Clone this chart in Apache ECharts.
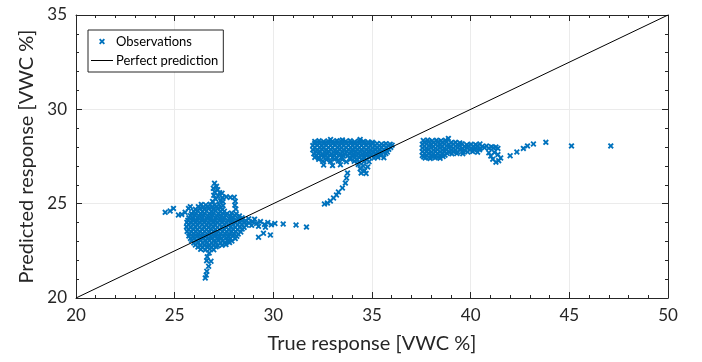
<!DOCTYPE html>
<html>
<head>
<meta charset="utf-8">
<script src="https://cdn.jsdelivr.net/npm/echarts@6/dist/echarts.min.js"></script>
<style>
  html, body { margin: 0; padding: 0; background: #fff; }
  #chart { width: 702px; height: 362px; }
</style>
</head>
<body>
<div id="chart"></div>
<script>
// Axis ranges and ticks
const xTicks = [20, 25, 30, 35, 40, 45, 50];
const yTicks = [20, 25, 30, 35];

// Reference diagonal drawn corner to corner
const perfectLine = [[20, 20], [50, 35]];

// Observations [true VWC %, predicted VWC %] — low-moisture cluster body
const obsLowBody = [
  [26.35,24.96],[26.58,24.93],[26.8,24.97],[27.02,24.92],[27.25,24.95],[27.45,24.9],
  [26.05,24.7],[26.27,24.74],[26.5,24.71],[26.72,24.75],[26.95,24.7],[27.18,24.73],[27.42,24.69],
  [25.85,24.47],[26.07,24.5],[26.3,24.46],[26.52,24.49],[26.75,24.47],[26.97,24.51],[27.2,24.46],[27.42,24.49],[27.65,24.47],[27.88,24.5],[28.12,24.46],
  [25.72,24.25],[25.94,24.22],[26.17,24.26],[26.4,24.23],[26.62,24.25],[26.85,24.21],[27.07,24.26],[27.3,24.23],[27.52,24.24],[27.75,24.22],[27.97,24.26],[28.2,24.23],[28.42,24.25],
  [25.62,24.01],[25.84,23.98],[26.07,24.02],[26.3,23.99],[26.52,24.01],[26.74,23.97],[26.97,24.02],[27.2,23.99],[27.42,24.01],[27.64,23.98],[27.87,24.02],[28.1,23.99],[28.32,24.0],[28.55,24.02],[28.77,23.98],
  [25.6,23.77],[25.82,23.74],[26.05,23.78],[26.27,23.75],[26.5,23.77],[26.72,23.73],[26.95,23.78],[27.17,23.75],[27.4,23.77],[27.62,23.74],[27.85,23.78],[28.07,23.75],[28.3,23.76],[28.52,23.74],
  [25.63,23.53],[25.85,23.5],[26.08,23.54],[26.3,23.51],[26.53,23.53],[26.75,23.49],[26.98,23.54],[27.2,23.51],[27.43,23.53],[27.65,23.5],[27.88,23.54],[28.1,23.51],[28.35,23.5],
  [25.72,23.29],[25.95,23.26],[26.17,23.3],[26.4,23.27],[26.62,23.29],[26.85,23.25],[27.07,23.3],[27.3,23.27],[27.52,23.29],[27.75,23.26],[27.97,23.3],[28.15,23.27],
  [25.86,23.05],[26.08,23.02],[26.31,23.06],[26.53,23.03],[26.76,23.05],[26.98,23.01],[27.21,23.06],[27.43,23.03],[27.66,23.04],[27.9,23.02],
  [26.05,22.81],[26.28,22.78],[26.5,22.82],[26.73,22.79],[26.95,22.81],[27.18,22.77],[27.4,22.8],[27.6,22.83],
  [26.32,22.58],[26.55,22.55],[26.78,22.6],[26.98,22.56]
];
// Low cluster: denser core between the rows above
const obsLowCore = [
  [26.2,24.84],[26.45,24.81],[26.68,24.85],[26.9,24.82],[27.12,24.84],[27.35,24.8],
  [25.96,24.6],[26.18,24.62],[26.4,24.58],[26.62,24.61],[26.85,24.59],[27.08,24.63],[27.3,24.58],[27.52,24.6],
  [25.8,24.36],[26.02,24.38],[26.25,24.34],[26.47,24.37],[26.7,24.35],[26.92,24.39],[27.15,24.34],[27.37,24.36],[27.6,24.38],[27.82,24.34],[28.05,24.37],[28.28,24.35],
  [25.67,24.12],[25.9,24.14],[26.12,24.1],[26.35,24.13],[26.57,24.11],[26.8,24.15],[27.02,24.1],[27.25,24.12],[27.47,24.14],[27.7,24.1],[27.92,24.13],[28.15,24.11],[28.37,24.14],[28.6,24.1],
  [25.7,23.88],[25.93,23.9],[26.15,23.86],[26.38,23.89],[26.6,23.87],[26.83,23.91],[27.05,23.86],[27.28,23.88],[27.5,23.9],[27.73,23.86],[27.95,23.89],[28.18,23.87],[28.4,23.9],[28.63,23.86],
  [25.7,23.64],[25.93,23.66],[26.15,23.62],[26.38,23.65],[26.6,23.63],[26.83,23.67],[27.05,23.62],[27.28,23.64],[27.5,23.66],[27.73,23.62],[27.95,23.65],[28.18,23.63],[28.42,23.66],
  [25.74,23.4],[25.97,23.42],[26.2,23.38],[26.42,23.41],[26.65,23.39],[26.87,23.43],[27.1,23.38],[27.32,23.4],[27.55,23.42],[27.77,23.38],[28.0,23.41],[28.22,23.39],
  [25.8,23.16],[26.02,23.18],[26.25,23.14],[26.47,23.17],[26.7,23.15],[26.92,23.19],[27.15,23.14],[27.37,23.16],[27.6,23.18],[27.82,23.14],
  [25.97,22.92],[26.2,22.94],[26.42,22.9],[26.65,22.93],[26.87,22.91],[27.1,22.95],[27.32,22.9],[27.55,22.92],[27.78,22.94],
  [26.18,22.7],[26.42,22.68],[26.65,22.72],[26.88,22.69],[27.1,22.71]
];

// Low cluster: upward spike, hook, downward tail, left fringe, right wing
const obsLowSpike = [
  [27.02,26.08],[27.12,25.92],[26.96,25.82],[27.18,25.74],[27.03,25.62],[27.28,25.58],[27.4,25.55],
  [26.98,25.44],[27.2,25.4],[27.42,25.32],[27.08,25.24],[27.32,25.16],[26.92,25.12],[27.45,25.1]
];
const obsLowHook = [
  [27.62,25.36],[27.82,25.33],[28.02,25.34],[28.07,25.13],[28.05,24.92],[28.1,24.72]
];
const obsLowTail = [
  [26.75,22.38],[26.65,22.18],[26.84,21.95],[26.62,21.98],[26.72,21.68],[26.63,21.42],[26.6,21.22],[26.55,21.06]
];
const obsLowFringe = [
  [24.52,24.54],[24.77,24.61],[24.94,24.75],[25.19,24.4],[25.36,24.43],[25.53,24.54],[25.7,24.75],[25.79,24.84]
];
const obsLowWing = [
  [28.75,24.2],[29.05,24.18],[28.95,24.05],[29.15,23.95],[29.35,24.05],[29.55,23.9],[29.72,24.0],[29.9,23.88],
  [30.08,23.95],[28.9,23.85],[29.25,23.8],[29.6,23.75],[30.5,23.92],[31.15,23.87],[31.68,23.76],
  [29.25,23.22],[29.5,23.43],[29.85,23.34],[28.07,23.15],[27.72,22.98]
];

// Mid-moisture cluster
const obsMid = [
  [32.9,28.4],[33.5,28.38],[34.4,28.4],
  [32.1,28.3],[32.32,28.33],[32.55,28.29],[32.77,28.32],[33.0,28.3],[33.22,28.34],[33.45,28.29],[33.67,28.31],[33.9,28.33],[34.12,28.28],[34.35,28.32],[34.57,28.3],[34.8,28.27],[35.02,28.25],
  [32.0,28.08],[32.22,28.1],[32.45,28.06],[32.67,28.09],[32.9,28.07],[33.12,28.11],[33.35,28.06],[33.57,28.08],[33.8,28.1],[34.02,28.06],[34.25,28.09],[34.47,28.07],[34.7,28.1],[34.92,28.05],[35.15,28.08],[35.37,28.06],[35.6,28.09],[35.82,28.07],[36.02,28.1],
  [32.0,27.86],[32.22,27.84],[32.45,27.88],[32.67,27.85],[32.9,27.87],[33.12,27.83],[33.35,27.88],[33.57,27.85],[33.8,27.87],[34.02,27.84],[34.25,27.88],[34.47,27.85],[34.7,27.86],[34.92,27.83],[35.15,27.87],[35.37,27.85],[35.6,27.86],[35.85,27.88],
  [32.05,27.64],[32.27,27.66],[32.5,27.62],[32.72,27.65],[32.95,27.63],[33.17,27.67],[33.4,27.62],[33.62,27.64],[33.85,27.66],[34.07,27.62],[34.3,27.65],[34.52,27.63],[34.75,27.66],[34.97,27.62],[35.2,27.65],[35.42,27.63],[35.7,27.66],
  [32.1,27.45],[32.32,27.42],[32.55,27.46],[32.77,27.43],[33.0,27.45],[33.22,27.41],[33.45,27.46],[33.9,27.44],[34.12,27.42],[34.35,27.45],[34.6,27.43],[34.85,27.46],[35.1,27.42],[35.3,27.45],[35.6,27.44],
  [32.5,27.25],[32.9,27.23],[33.3,27.26],[33.7,27.22],[34.1,27.25],[34.35,27.2],[34.6,27.24],[34.85,27.22],
  [32.55,27.05],[33.0,27.02],[33.4,27.06],[34.3,27.08],[34.55,27.0],[34.78,26.95],
  [34.4,26.85],[34.62,26.75],[34.45,26.62],[34.7,26.6]
];
// Mid cluster: denser core
const obsMidCore = [
  [32.1,28.19],[32.33,28.21],[32.56,28.17],[32.78,28.2],[33.01,28.18],[33.23,28.22],[33.46,28.17],[33.68,28.19],[33.91,28.21],[34.13,28.17],[34.36,28.2],[34.58,28.18],[34.81,28.21],[35.03,28.17],[35.26,28.19],[35.48,28.16],[35.71,28.18],[35.92,28.15],
  [32.11,27.97],[32.34,27.99],[32.56,27.95],[32.79,27.98],[33.01,27.96],[33.24,28.0],[33.46,27.95],[33.69,27.97],[33.91,27.99],[34.14,27.95],[34.36,27.98],[34.59,27.96],[34.81,27.99],[35.04,27.95],[35.26,27.97],[35.49,27.99],[35.72,27.96],[35.95,27.98],
  [32.16,27.75],[32.38,27.77],[32.61,27.73],[32.83,27.76],[33.06,27.74],[33.28,27.78],[33.51,27.73],[33.73,27.75],[33.96,27.77],[34.18,27.73],[34.41,27.76],[34.63,27.74],[34.86,27.77],[35.08,27.73],[35.31,27.75],[35.53,27.77],[35.78,27.74],
  [32.2,27.55],[32.43,27.57],[32.66,27.53],[32.88,27.56],[33.11,27.54],[33.33,27.58],[33.56,27.53],[33.78,27.55],[34.01,27.57],[34.23,27.53],[34.46,27.56],[34.7,27.54],[34.95,27.57],[35.2,27.53],[35.45,27.55],
  [32.3,27.35],[32.7,27.33],[33.1,27.36],[33.5,27.34],[33.9,27.35],[34.25,27.32],[34.5,27.36],[34.75,27.33]
];
// Mid cluster: descending trail toward lower values
const obsMidTail = [
  [33.76,26.62],[33.71,26.36],[33.65,26.09],[33.5,25.83],[33.3,25.62],[33.2,25.46],[33.05,25.3],[32.89,25.14],[32.74,25.03],[32.59,24.98]
];

// High-moisture cluster
const obsHigh = [
  [38.87,28.46],
  [37.6,28.35],[37.82,28.37],[38.05,28.33],[38.27,28.36],[38.5,28.34],[38.72,28.36],
  [37.55,28.15],[37.77,28.17],[38.0,28.13],[38.22,28.16],[38.45,28.14],[38.67,28.17],[38.9,28.13],[39.12,28.16],[39.35,28.14],[39.57,28.17],[39.8,28.12],[40.02,28.15],[40.25,28.13],[40.47,28.16],
  [37.55,27.95],[37.77,27.93],[38.0,27.97],[38.22,27.94],[38.45,27.96],[38.67,27.92],[38.9,27.97],[39.12,27.94],[39.35,27.96],[39.57,27.93],[39.8,27.97],[40.02,27.94],[40.25,27.96],[40.47,27.93],[40.7,27.97],[40.92,27.94],[41.15,27.96],[41.38,27.93],
  [37.55,27.75],[37.77,27.77],[38.0,27.73],[38.22,27.76],[38.45,27.74],[38.67,27.77],[38.9,27.73],[39.12,27.76],[39.35,27.74],[39.6,27.77],[39.85,27.74],[40.1,27.76],[40.35,27.73],
  [37.55,27.55],[37.78,27.57],[38.0,27.53],[38.22,27.56],[38.45,27.54],[38.7,27.57],
  [37.7,27.42],[37.95,27.4],[38.2,27.43],[38.45,27.41]
];
// High cluster: denser core
const obsHighCore = [
  [37.66,28.25],[37.88,28.27],[38.11,28.23],[38.33,28.26],[38.56,28.24],[38.78,28.27],[39.0,28.23],[39.23,28.25],[39.45,28.22],
  [37.66,28.05],[37.88,28.07],[38.11,28.03],[38.33,28.06],[38.56,28.04],[38.78,28.07],[39.0,28.03],[39.23,28.05],[39.45,28.07],[39.68,28.03],[39.9,28.06],[40.13,28.04],[40.36,28.07],[40.58,28.03],[40.8,28.05],[41.05,28.02],[41.28,28.0],
  [37.66,27.85],[37.88,27.87],[38.11,27.83],[38.33,27.86],[38.56,27.84],[38.78,27.87],[39.0,27.83],[39.23,27.85],[39.46,27.87],[39.7,27.83],[39.95,27.86],[40.2,27.84],[40.45,27.86],
  [37.66,27.65],[37.88,27.67],[38.11,27.63],[38.33,27.66],[38.56,27.64],[38.8,27.67],[39.05,27.64],[39.3,27.66],[39.6,27.65],
  [37.62,27.48],[37.88,27.46],[38.1,27.49],[38.35,27.47],[38.6,27.5]
];
// High cluster: dip and rising trail
const obsHighTail = [
  [40.92,27.7],[41.02,27.52],[41.12,27.36],[41.28,27.2],[41.42,27.28],[41.52,27.42],[41.38,27.6],[41.2,27.72],
  [42.0,27.54],[42.34,27.74],[42.67,27.93],[42.88,28.06],[43.18,28.16],[43.81,28.25],[45.11,28.06],[47.1,28.06]
];

const observations = [].concat(
  obsLowBody, obsLowCore, obsLowSpike, obsLowHook, obsLowTail, obsLowFringe, obsLowWing,
  obsMid, obsMidCore, obsMidTail, obsHigh, obsHighCore, obsHighTail
);

const crossMark = 'path://M0,2.2L2.2,0L5,2.8L7.8,0L10,2.2L7.2,5L10,7.8L7.8,10L5,7.2L2.2,10L0,7.8L2.8,5Z';
const lineIcon = 'path://M0,0L22,0L22,1L0,1Z';
const markerColor = '#0072BD';
const axisColor = '#262626';
const fontFamily = 'Lato, "Open Sans", sans-serif';

const chart = echarts.init(document.getElementById('chart'), null, { renderer: 'canvas' });

function boxAxis(pos, min, max, withLabels, name, nameGap, rotate) {
  return {
    type: 'value',
    position: pos,
    min: min, max: max, interval: 5,
    name: withLabels ? name : '',
    nameLocation: 'middle',
    nameGap: nameGap,
    nameRotate: rotate,
    nameTextStyle: { fontFamily: fontFamily, fontSize: 20, color: axisColor },
    axisLine: { show: true, onZero: false, lineStyle: { color: axisColor, width: 1 } },
    axisTick: { show: true, inside: true, length: 6, lineStyle: { color: axisColor, width: 1 } },
    minorTick: { show: true, splitNumber: 5, length: 3, lineStyle: { color: axisColor, width: 1 } },
    axisLabel: {
      show: withLabels, fontFamily: fontFamily, fontSize: 17, color: axisColor, margin: 9
    },
    splitLine: { show: withLabels, lineStyle: { color: '#ebebeb', width: 1 } },
    minorSplitLine: { show: false }
  };
}

chart.setOption({
  animation: false,
  backgroundColor: '#fff',
  grid: { left: 76, right: 34, top: 15, bottom: 64, containLabel: false },
  xAxis: [
    boxAxis('bottom', xTicks[0], xTicks[xTicks.length - 1], true, 'True response [VWC %]', 36, 0),
    boxAxis('top', xTicks[0], xTicks[xTicks.length - 1], false, '', 0, 0)
  ],
  yAxis: [
    boxAxis('left', yTicks[0], yTicks[yTicks.length - 1], true, 'Predicted response [VWC %]', 38, 90),
    boxAxis('right', yTicks[0], yTicks[yTicks.length - 1], false, '', 0, 0)
  ],
  legend: {
    orient: 'vertical',
    left: 88, top: 30,
    backgroundColor: '#fff',
    borderColor: axisColor,
    borderWidth: 1,
    padding: [5, 5, 5, 3],
    itemGap: 6,
    itemWidth: 22,
    itemHeight: 6,
    textStyle: { fontFamily: fontFamily, fontSize: 13, color: '#000', padding: [0, 0, 0, -2] },
    data: [
      { name: 'Observations', icon: crossMark, itemStyle: { color: markerColor } },
      { name: 'Perfect prediction', icon: lineIcon, itemStyle: { color: '#000' } }
    ]
  },
  series: [
    {
      name: 'Observations',
      type: 'scatter',
      xAxisIndex: 0, yAxisIndex: 0,
      symbol: crossMark,
      symbolSize: 6,
      itemStyle: { color: markerColor, opacity: 1 },
      data: observations,
      z: 2
    },
    {
      name: 'Perfect prediction',
      type: 'line',
      xAxisIndex: 0, yAxisIndex: 0,
      data: perfectLine,
      symbol: 'none',
      showSymbol: false,
      lineStyle: { color: '#000', width: 1 },
      itemStyle: { color: '#000' },
      z: 3
    }
  ]
});
</script>
</body>
</html>
